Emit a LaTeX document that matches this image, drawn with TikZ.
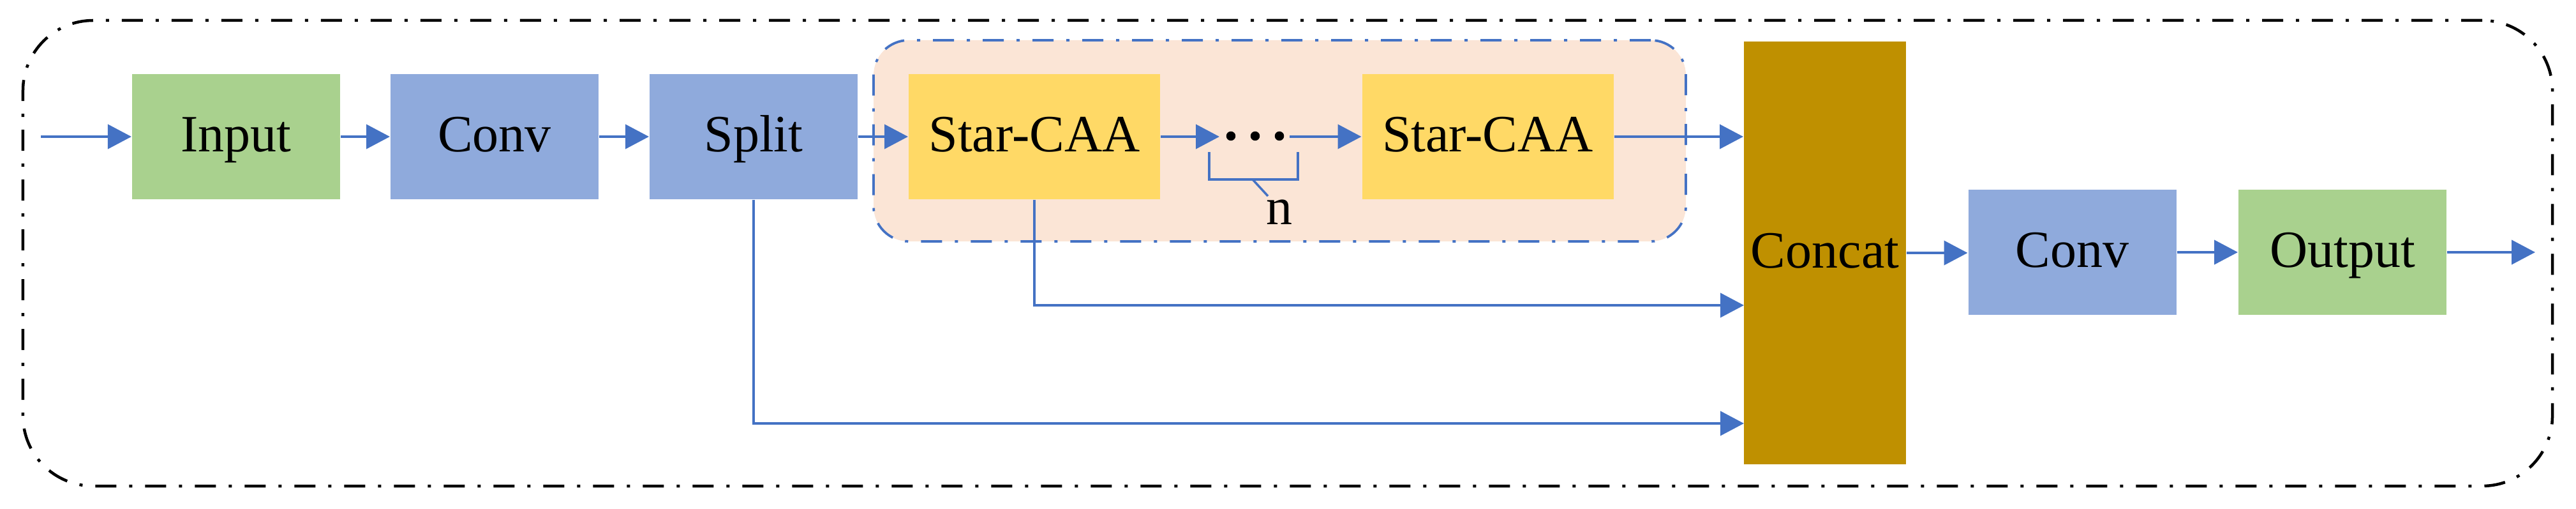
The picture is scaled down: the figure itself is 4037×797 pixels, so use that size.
\documentclass[tikz,border=0pt]{standalone}
\usepackage{fontspec}
\setmainfont{Liberation Serif}
\usetikzlibrary{arrows.meta}
\definecolor{cgreen}{HTML}{A9D18E}
\definecolor{cblue}{HTML}{8FAADC}
\definecolor{cyel}{HTML}{FFD966}
\definecolor{cpeach}{HTML}{FBE5D6}
\definecolor{cgold}{HTML}{BF9000}
\definecolor{carrow}{HTML}{4472C4}
\begin{document}
\begin{tikzpicture}[x=0.2pt,y=-0.2pt,
  lbl/.style={font=\fontsize{16.4}{19}\selectfont},
  blk/.style={rectangle,inner sep=0pt,minimum width=65.2pt,minimum height=39.2pt,lbl,text height=10.2pt,text depth=0.86pt},
  greenblk/.style={blk,fill=cgreen},
  blueblk/.style={blk,fill=cblue},
  starblk/.style={blk,fill=cyel,minimum width=78.8pt},
  dashdot/.style={dash pattern=on 6.6pt off 4pt on 1pt off 4pt},
  arr/.style={draw=carrow,line width=0.8pt,-{Triangle[length=7.4pt,width=7.6pt]}},
  link/.style={draw=carrow,line width=0.8pt},
  brk/.style={draw=carrow,line width=0.7pt}
]
\useasboundingbox (0,0) rectangle (4037,797);
% outer frame
\node[draw=black,line width=0.9pt,dashdot,rounded corners=22pt,rectangle,inner sep=0pt,
      minimum width=792.8pt,minimum height=145.8pt] (frame) at (2018,396.5) {};
% group container
\node[draw=carrow,fill=cpeach,line width=0.75pt,dashdot,rounded corners=11pt,rectangle,inner sep=0pt,
      minimum width=254.6pt,minimum height=63pt] (grp) at (2005.5,220.5) {};
% blocks
\node[greenblk] (in) at (370,214) {Input};
\node[blueblk] (conv1) at (775,214) {Conv};
\node[blueblk] (split) at (1181,214) {Split};
\node[starblk] (star1) at (1621,214) {Star-CAA};
\node[rectangle,inner sep=0pt,minimum width=21.6pt,minimum height=4pt] (dots) at (1966,214) {};
\node[starblk] (star2) at (2331.5,214) {Star-CAA};
\node[blk,fill=cgold,minimum width=50.8pt,minimum height=132.4pt] (concat) at (2860,396) {Concat};
\node[blueblk] (conv2) at (3247.5,395) {Conv};
\node[greenblk] (out) at (3671,395) {Output};
% dots
\fill (1929,213) circle (1.45pt);
\fill (1967,213) circle (1.45pt);
\fill (2005,213) circle (1.45pt);
% bracket and n
\draw[brk] (1895,238) -- (1895,281) -- (2034,281) -- (2034,238);
\node[lbl,anchor=base,inner sep=0pt] (nlab) at (2005,352) {n};
\coordinate (bm) at (1963,281);
\coordinate (bn) at (1987,307);
\draw[brk] (bm) -- (bn);
% connectors
\coordinate (start) at (64,214);
\coordinate (finish) at (3973,395);
\coordinate (c2) at (2733,478);
\coordinate (c3) at (2733,663);
\draw[arr] (start) -- (in.west);
\draw[arr] (in.east) -- (conv1.west);
\draw[arr] (conv1.east) -- (split.west);
\draw[arr] (split.east) -- (star1.west);
\draw[arr] (star1.east) -- (dots.west);
\draw[arr] (dots.east) -- (star2.west);
\draw[arr] (star2.east) -- (star2.east -| concat.west);
\draw[arr] (star1.south) |- (c2);
\draw[arr] (split.south) |- (c3);
\draw[arr] (concat.east) -- (concat.east -| conv2.west);
\draw[arr] (conv2.east) -- (out.west);
\draw[arr] (out.east) -- (finish);
\end{tikzpicture}
\end{document}
